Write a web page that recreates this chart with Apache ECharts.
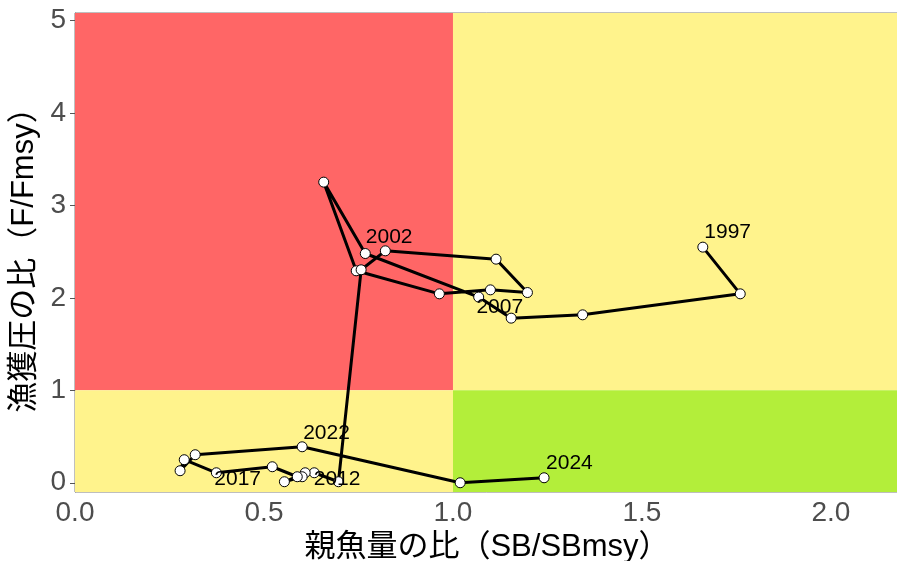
<!DOCTYPE html>
<html>
<head>
<meta charset="utf-8">
<script src="https://cdn.jsdelivr.net/npm/echarts@6/dist/echarts.min.js"></script>
<style>
html,body{margin:0;padding:0;background:#fff;}
#chart{width:897px;height:561px;}
</style>
</head>
<body>
<div id="chart"></div>
<script>
// ---- data ----
const years = [1997,1998,1999,2000,2001,2002,2003,2004,2005,2006,2007,2008,2009,2010,
               2011,2012,2013,2014,2015,2016,2017,2018,2019,2020,2021,2022,2023,2024];
const sbRatio = [1.661,1.760,1.343,1.154,1.068,0.768,0.658,0.744,0.964,1.099,1.197,1.114,0.821,0.757,
                 0.697,0.633,0.609,0.601,0.554,0.588,0.522,0.374,0.289,0.278,0.318,0.601,1.019,1.241];
const fRatio  = [2.548,2.043,1.816,1.780,2.008,2.479,3.251,2.292,2.043,2.086,2.057,2.418,2.508,2.303,
                 0.011,0.108,0.108,0.065,0.011,0.065,0.173,0.108,0.249,0.130,0.303,0.389,0.000,0.054];
const labelledYears = [1997,2002,2007,2012,2017,2022,2024];
const xTicks = [0, 0.5, 1.0, 1.5, 2.0];
const yTicks = [0, 1, 2, 3, 4, 5];
const sbLimit = 1;   // SB/SBmsy reference
const fLimit = 1;    // F/Fmsy reference
const xRange = [0, 2.18];
const yRange = [-0.1, 5.08];

// ---- label placement (styles, not data) ----
const labelShift = {
  1997: [2, -14], 2002: [1, -15.5], 2007: [-50.5, 15.5], 2012: [0, 6.5],
  2017: [-57.5, 12.5], 2022: [1.5, -13.5], 2024: [2.5, -14.5]
};
const symSize = 10;

const points = years.map((yr, i) => {
  const item = { value: [sbRatio[i], fRatio[i]] };
  if (labelledYears.includes(yr)) {
    const s = labelShift[yr];
    item.label = {
      show: true,
      formatter: String(yr),
      position: [symSize / 2 + s[0], symSize / 2 + s[1]],
      align: 'left',
      verticalAlign: 'middle',
      fontSize: 21,
      fontFamily: "'Liberation Sans', Arial, sans-serif",
      color: '#000'
    };
  }
  return item;
});

const RED = '#FF6666', YEL = '#FFF38C', GRN = '#B3EE3A';

const chart = echarts.init(document.getElementById('chart'), null, { renderer: 'canvas' });
chart.setOption({
  animation: false,
  backgroundColor: '#ffffff',
  grid: { left: 75, right: -2, top: 13, bottom: 69, outerBoundsMode: 'none', containLabel: false,
          show: true, borderColor: '#7F7F7F', borderWidth: 1, backgroundColor: 'transparent' },
  xAxis: {
    type: 'value', min: xRange[0], max: xRange[1],
    name: '親魚量の比（SB/SBmsy）', nameLocation: 'middle', nameGap: 37,
    nameTextStyle: { fontSize: 31, color: '#000', fontFamily: "'Liberation Sans', 'Noto Sans CJK JP', sans-serif" },
    axisLine: { show: true, lineStyle: { color: '#7F7F7F', width: 1 } },
    axisTick: { show: true, customValues: xTicks, length: 5, lineStyle: { color: '#555' } },
    axisLabel: { customValues: xTicks, formatter: v => v.toFixed(1), fontSize: 28, color: '#4D4D4D', margin: 7,
                 fontFamily: "'Liberation Sans', Arial, sans-serif" },
    splitLine: { show: false }
  },
  yAxis: {
    type: 'value', min: yRange[0], max: yRange[1],
    name: '漁獲圧の比（F/Fmsy）', nameLocation: 'middle', nameGap: 25,
    nameTextStyle: { fontSize: 31, color: '#000', fontFamily: "'Liberation Sans', 'Noto Sans CJK JP', sans-serif" },
    axisLine: { show: true, lineStyle: { color: '#7F7F7F', width: 1 } },
    axisTick: { show: true, customValues: yTicks, length: 5, lineStyle: { color: '#555' } },
    axisLabel: { customValues: yTicks, formatter: v => String(v), fontSize: 28, color: '#4D4D4D', margin: 9,
                 fontFamily: "'Liberation Sans', Arial, sans-serif" },
    splitLine: { show: false }
  },
  series: [
    {
      type: 'line', data: [], silent: true,
      markArea: {
        silent: true,
        data: [
          [{ coord: [xRange[0], fLimit], itemStyle: { color: RED } }, { coord: [sbLimit, yRange[1]] }],
          [{ coord: [sbLimit, fLimit], itemStyle: { color: YEL } }, { coord: [xRange[1], yRange[1]] }],
          [{ coord: [xRange[0], yRange[0]], itemStyle: { color: YEL } }, { coord: [sbLimit, fLimit] }],
          [{ coord: [sbLimit, yRange[0]], itemStyle: { color: GRN } }, { coord: [xRange[1], fLimit] }]
        ]
      }
    },
    {
      type: 'line',
      data: points,
      symbol: 'circle',
      symbolSize: symSize,
      showAllSymbol: true,
      lineStyle: { color: '#000', width: 3 },
      itemStyle: { color: '#fff', borderColor: '#000', borderWidth: 1 },
      emphasis: { disabled: true },
      z: 5
    }
  ]
});
</script>
</body>
</html>
